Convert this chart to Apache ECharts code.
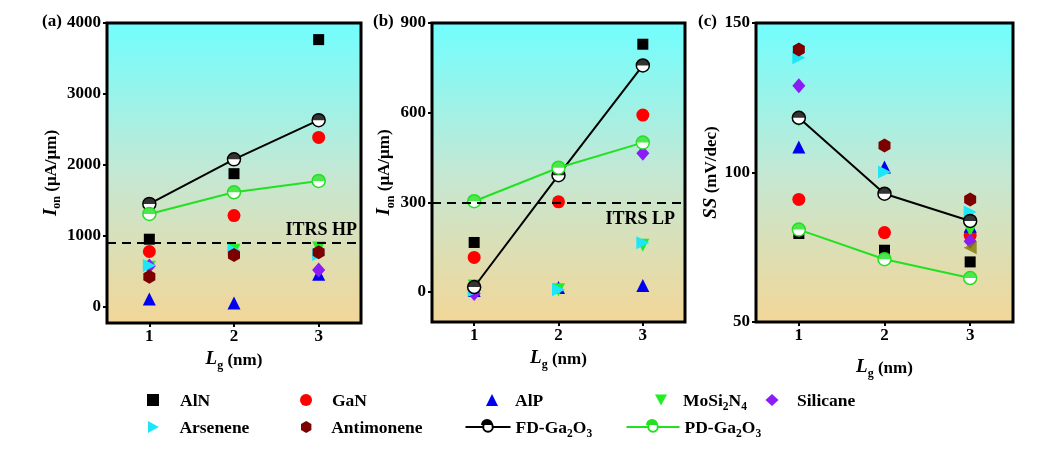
<!DOCTYPE html>
<html>
<head>
<meta charset="UTF-8">
<title>Ion and SS vs Lg</title>
<script src="https://cdn.jsdelivr.net/npm/echarts@6/dist/echarts.min.js"></script>
<style>
  html, body { margin: 0; padding: 0; background: #fff; }
  #chart { width: 1044px; height: 454px; }
</style>
</head>
<body>
<div id="chart"></div>
<script>
// gate length (nm)
var lgValues = [1, 2, 3];

// (a) Ion, uA/um (HP)
var hpAlN        = [955, 1878, 3766];
var hpGaN        = [782, 1288, 2389];
var hpAlP        = [112, 56, 460];
var hpMoSi2N4    = [560, 800, 830];
var hpSilicane   = [578, null, 522];
var hpArsenene   = [585, 800, 740];
var hpAntimonene = [428, 731, 770];
var hpFD         = [1452, 2080, 2632];
var hpPD         = [1311, 1616, 1775];
var hpLimit      = 900;

// (b) Ion, uA/um (LP)
var lpAlN        = [166, null, 829];
var lpGaN        = [116, 302, 592];
var lpAlP        = [5, 15, 22];
var lpMoSi2N4    = [20, 8, 157];
var lpSilicane   = [-5, null, 464];
var lpArsenene   = [5, 8, 165];
var lpAntimonene = [null, null, null];
var lpFD         = [17, 391, 758];
var lpPD         = [304, 416, 500];
var lpLimit      = 300;

// (c) SS, mV/dec
var ssAlN        = [79.6, 74.0, 70.1];
var ssGaN        = [91.0, 79.9, 79.0];
var ssAlP        = [108.5, 101.8, 82.0];
var ssMoSi2N4    = [117.5, null, 80.7];
var ssSilicane   = [129.0, null, 77.0];
var ssArsenene   = [138.4, 100.2, 86.8];
var ssAntimonene = [141.1, 109.0, 91.0];
var ssOther      = [null, null, 74.8];
var ssFD         = [118.3, 92.9, 83.8];
var ssPD         = [80.9, 71.0, 64.7];

var hpTicks = [0, 1000, 2000, 3000, 4000];
var lpTicks = [0, 300, 600, 900];
var ssTicks = [50, 100, 150];

var FONT = "'Liberation Serif', 'Times New Roman', serif";
var hexPath = 'path://M0,-1L0.866,-0.5L0.866,0.5L0,1L-0.866,0.5L-0.866,-0.5Z';
var halfDisc = 'path://M0,10A10,10 0 0 1 20,10Z';
var downTri = 'path://M0,0L2,0L1,1.8Z';
var rightTri = 'path://M0,0L1.8,1L0,2Z';

var materials = [
  { name: 'AlN', symbol: 'rect', size: 11, color: '#000000' },
  { name: 'GaN', symbol: 'circle', size: 13, color: '#ff0000' },
  { name: 'AlP', symbol: 'triangle', size: 13, color: '#0000f0' },
  { name: 'MoSi2N4', symbol: 'triangle', rotate: 180, size: 13, color: '#22ee22' },
  { name: 'Silicane', symbol: 'diamond', size: [13, 15], color: '#8a1cf5' },
  { name: 'Arsenene', symbol: 'triangle', rotate: -90, size: 13, color: '#1ce6f8' },
  { name: 'Antimonene', symbol: hexPath, size: [12, 14], color: '#7d0000' }
];

function pts(vals) {
  var out = [];
  lgValues.forEach(function (x, i) {
    if (vals[i] != null) out.push([x, vals[i]]);
  });
  return out;
}

var bg = {
  type: 'linear', x: 0, y: 0, x2: 0, y2: 1,
  colorStops: [
    { offset: 0, color: '#70fefe' },
    { offset: 0.5, color: '#c4e8d4' },
    { offset: 1, color: '#f3d697' }
  ]
};

var grids = [
  { left: 107, top: 23, width: 254, height: 300 },
  { left: 432, top: 23, width: 253, height: 299 },
  { left: 756, top: 23, width: 257, height: 299 }
].map(function (g) {
  g.show = true;
  g.borderColor = '#000';
  g.borderWidth = 3;
  g.backgroundColor = bg;
  return g;
});

var labelStyle = { fontFamily: FONT, fontWeight: 'bold', fontSize: 17, color: '#000' };
var nameRich = {
  i: { fontFamily: FONT, fontWeight: 'bold', fontStyle: 'italic', fontSize: 19, color: '#000', lineHeight: 22, verticalAlign: 'bottom' },
  s: { fontFamily: FONT, fontWeight: 'bold', fontSize: 12, color: '#000', lineHeight: 12, verticalAlign: 'bottom', padding: [0, 0, -3, 0] },
  n: { fontFamily: FONT, fontWeight: 'bold', fontSize: 17, color: '#000', lineHeight: 22, verticalAlign: 'bottom' }
};
function plain(v) { return String(v); }

function xAxis(idx, gap) {
  return {
    type: 'value', gridIndex: idx, min: 0.5, max: 3.5,
    name: '{i|L}{s|g}{n| (nm)}', nameLocation: 'middle', nameGap: gap,
    nameTextStyle: { rich: nameRich },
    axisLine: { show: false, onZero: false },
    axisTick: { show: true, inside: false, length: 4, lineStyle: { color: '#000', width: 2 }, customValues: lgValues },
    axisLabel: Object.assign({ margin: 5, customValues: lgValues, formatter: plain }, labelStyle),
    splitLine: { show: false }
  };
}

function yAxis(idx, min, max, ticks, name, gap) {
  return {
    type: 'value', gridIndex: idx, min: min, max: max,
    name: name, nameLocation: 'middle', nameGap: gap, nameRotate: 90,
    nameTextStyle: { rich: nameRich },
    axisLine: { show: false, onZero: false },
    axisTick: { show: true, inside: false, length: 4, lineStyle: { color: '#000', width: 2 }, customValues: ticks },
    axisLabel: Object.assign({ margin: 6, customValues: ticks, formatter: plain }, labelStyle),
    splitLine: { show: false }
  };
}

function panelSeries(idx, sets, fd, pd, limit, limitText, limitPos) {
  var list = [];
  materials.forEach(function (m, k) {
    list.push({
      name: m.name, type: 'scatter', xAxisIndex: idx, yAxisIndex: idx,
      symbol: m.symbol, symbolSize: m.size, symbolRotate: m.rotate || 0,
      itemStyle: { color: m.color, opacity: 1 },
      data: pts(sets[k])
    });
    if (m.name === 'Antimonene' && sets.length > 7) {
      list.push({
        name: 'other', type: 'scatter', xAxisIndex: idx, yAxisIndex: idx,
        symbol: 'triangle', symbolSize: 13, symbolRotate: 90,
        itemStyle: { color: '#807800' },
        data: pts(sets[7])
      });
    }
  });
  [[fd, '#000000', 'FD-Ga2O3'], [pd, '#22e022', 'PD-Ga2O3']].forEach(function (s, k) {
    var line = {
      name: s[2], type: 'line', xAxisIndex: idx, yAxisIndex: idx,
      symbol: 'circle', symbolSize: 13, showAllSymbol: true,
      lineStyle: { color: s[1], width: 2 },
      itemStyle: { color: '#ffffff', borderColor: s[1], borderWidth: 1.5 },
      data: pts(s[0]), z: 3
    };
    if (k === 0 && limit != null) {
      var top = limitPos === 'insideEndTop';
      line.markLine = {
        silent: true, symbol: 'none',
        lineStyle: { color: '#000', width: 2, type: [9, 6] },
        label: { show: true, position: limitPos, formatter: limitText, distance: top ? 4 : 8,
                 padding: [0, top ? 0 : 2, 0, 0],
                 fontFamily: FONT, fontWeight: 'bold', fontSize: 18, color: '#000' },
        data: [{ yAxis: limit }]
      };
    }
    list.push(line);
    list.push({
      name: s[2] + ' top', type: 'scatter', xAxisIndex: idx, yAxisIndex: idx,
      symbol: halfDisc, symbolSize: [13, 6.5], symbolOffset: [0, -3.25],
      itemStyle: { color: s[1] }, silent: true,
      data: pts(s[0]), z: 3
    });
  });
  return list;
}

var series = []
  .concat(panelSeries(0, [hpAlN, hpGaN, hpAlP, hpMoSi2N4, hpSilicane, hpArsenene, hpAntimonene], hpFD, hpPD, hpLimit, 'ITRS HP', 'insideEndTop'))
  .concat(panelSeries(1, [lpAlN, lpGaN, lpAlP, lpMoSi2N4, lpSilicane, lpArsenene, lpAntimonene], lpFD, lpPD, lpLimit, 'ITRS LP', 'insideEndBottom'))
  .concat(panelSeries(2, [ssAlN, ssGaN, ssAlP, ssMoSi2N4, ssSilicane, ssArsenene, ssAntimonene, ssOther], ssFD, ssPD, null));

// legend layout: one small legend per entry (icon centre x, text start x, row y)
var legendItems = [
  { name: 'AlN', cx: 153, tx: 180, cy: 398, w: 12 },
  { name: 'GaN', cx: 306, tx: 332, cy: 398, w: 12 },
  { name: 'AlP', cx: 492, tx: 515, cy: 398, w: 12 },
  { name: 'MoSi2N4', cx: 661, tx: 683, cy: 398, w: 12, icon: downTri },
  { name: 'Silicane', cx: 772, tx: 797, cy: 398, w: 13 },
  { name: 'Arsenene', cx: 154, tx: 180, cy: 425, w: 12, icon: rightTri },
  { name: 'Antimonene', cx: 307, tx: 332, cy: 425, w: 12 },
  { name: 'FD-Ga2O3', cx: 487, tx: 513, cy: 425, w: 45 },
  { name: 'PD-Ga2O3', cx: 652, tx: 682, cy: 425, w: 53 }
];
function legendLabel(name) {
  return '{g|}' + ('{t|' + name.replace(/(\d)/g, '}{s|$1}{t|') + '}').replace('{t|}', '');
}
var legends = legendItems.map(function (it) {
  var left = it.cx - it.w / 2;
  var pad = Math.max(0, it.tx - (left + it.w + 5));
  var item = it.icon ? { name: it.name, icon: it.icon } : it.name;
  return {
    data: [item], left: left, top: it.cy - 6, padding: 0,
    itemWidth: it.w, itemHeight: 12, selectedMode: false,
    formatter: legendLabel,
    textStyle: {
      rich: {
        g: { width: pad, height: 10 },
        t: { fontFamily: FONT, fontWeight: 'bold', fontSize: 17.5, color: '#000', lineHeight: 20, verticalAlign: 'bottom' },
        s: { fontFamily: FONT, fontWeight: 'bold', fontSize: 11.5, color: '#000', lineHeight: 11, verticalAlign: 'bottom', padding: [0, 0, -3, 0] }
      }
    }
  };
});

var graphics = [
  { type: 'text', left: 42, top: 13, style: { text: '(a)', font: 'bold 17px ' + FONT, fill: '#000' } },
  { type: 'text', left: 373, top: 13, style: { text: '(b)', font: 'bold 17px ' + FONT, fill: '#000' } },
  { type: 'text', left: 698, top: 13, style: { text: '(c)', font: 'bold 17px ' + FONT, fill: '#000' } }
];
// top halves of the legend circles for the Ga2O3 lines
legendItems.slice(7).forEach(function (it, k) {
  graphics.push({
    type: 'sector', shape: { cx: it.cx, cy: it.cy, r: 6, startAngle: Math.PI, endAngle: Math.PI * 2 },
    style: { fill: k === 0 ? '#000000' : '#22e022' }, z: 100
  });
});

var chart = echarts.init(document.getElementById('chart'));
chart.setOption({
  backgroundColor: '#ffffff',
  animation: false,
  grid: grids,
  xAxis: [xAxis(0, 23), xAxis(1, 23), xAxis(2, 33)],
  yAxis: [
    yAxis(0, -225, 4000, hpTicks, '{i|I}{s|on}{n| (μA/μm)}', 34),
    yAxis(1, -100, 900, lpTicks, '{i|I}{s|on}{n| (μA/μm)}', 26),
    yAxis(2, 50, 150, ssTicks, '{i|SS}{n| (mV/dec)}', 31)
  ],
  legend: legends,
  graphic: graphics,
  series: series
});
</script>
</body>
</html>
